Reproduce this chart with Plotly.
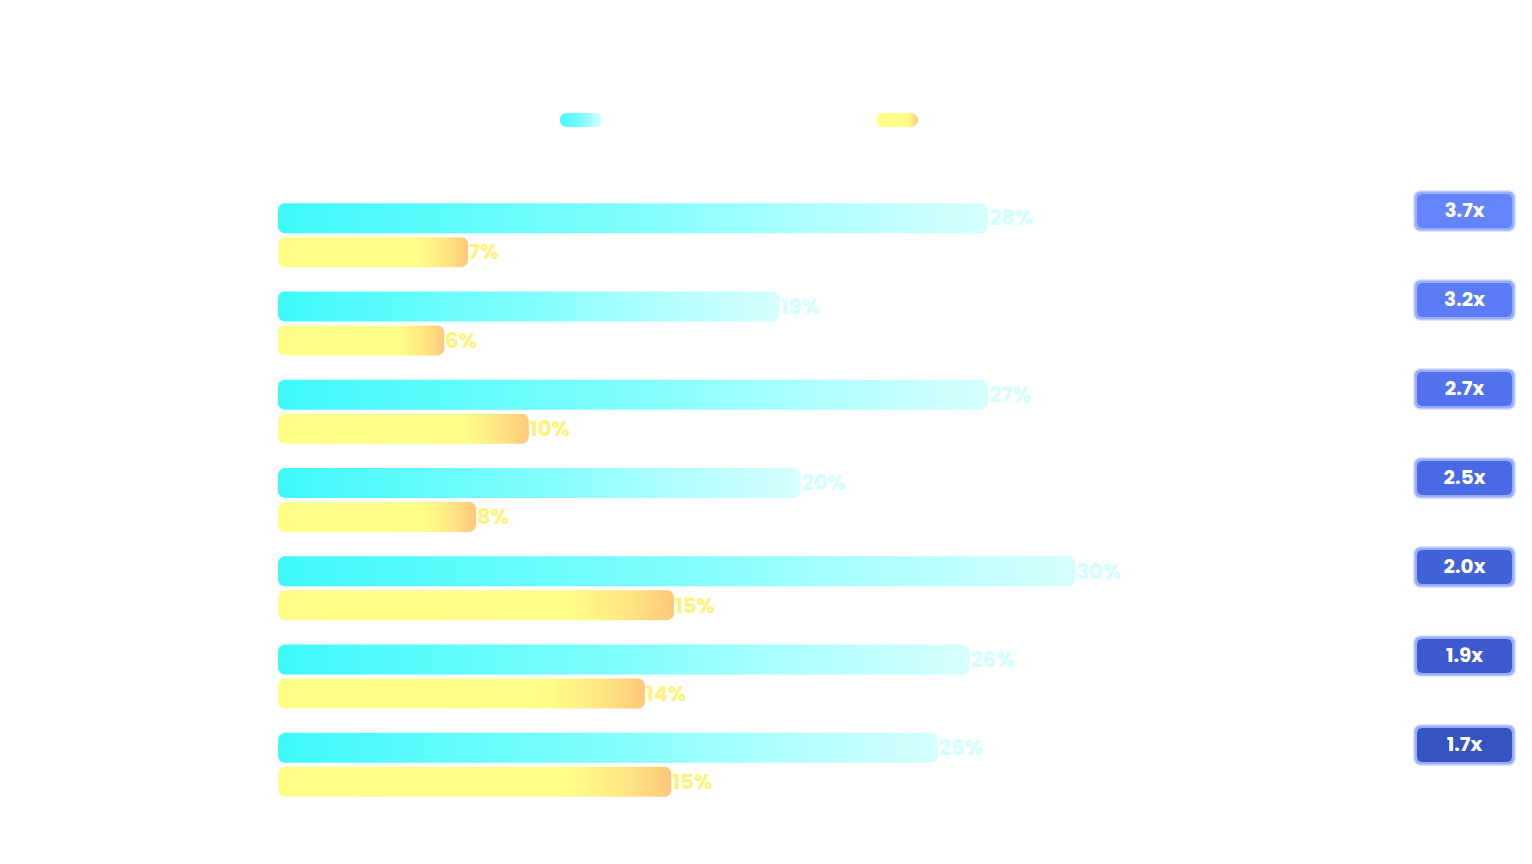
import numpy as np
import plotly.graph_objects as go

# values (labels are the printed ones)
rows = [0, 1, 2, 3, 4, 5, 6]
cyan_vals = [26.9, 19.0, 26.9, 19.8, 30.2, 26.2, 25.0]
yellow_vals = [7.2, 6.3, 9.5, 7.5, 15.0, 13.9, 14.9]
cyan_labels = ["28%", "19%", "27%", "20%", "30%", "26%", "25%"]
yellow_labels = ["7%", "6%", "10%", "8%", "15%", "14%", "15%"]
ratios = ["3.7x", "3.2x", "2.7x", "2.5x", "2.0x", "1.9x", "1.7x"]
badge_colors = ["#6384fa", "#5b7cf4", "#5172ec", "#4a6ae3", "#4262d8", "#3c5acd", "#3653c2"]
series_names = ["Group A", "Group B"]

# page has an 8px body margin, so the figure is 16px smaller than the window
W, H = 1516, 848
ML = 270
plot_top, plot_bottom = 183, 801
px_per_unit = 26.4
xmax = (W - ML) / px_per_unit
row_px = (plot_bottom - plot_top) / 7.0

half = 15 / row_px
off = 17 / row_px


def rrect(x0, x1, y0, y1, rx, ry, n=8):
    # closed rounded rectangle path
    t = np.linspace(0, np.pi / 2, n)
    xs, ys = [], []
    for cx, cy, a0 in [(x1 - rx, y0 + ry, -np.pi / 2), (x1 - rx, y1 - ry, 0),
                       (x0 + rx, y1 - ry, np.pi / 2), (x0 + rx, y0 + ry, np.pi)]:
        xs += list(cx + rx * np.cos(a0 + t))
        ys += list(cy + ry * np.sin(a0 + t))
    xs.append(xs[0])
    ys.append(ys[0])
    return xs, ys


def ux(p):
    return p / px_per_unit


def uy(p):
    return p / row_px


cyan_scale = [[0, "#3ef9f9"], [0.5, "#80fdfd"], [0.75, "#aefefe"], [1, "#d6ffff"]]
yellow_scale = [[0, "#ffff88"], [0.74, "#fffe88"], [0.9, "#ffe282"], [1, "#ffc77b"]]

fig = go.Figure()

for i, r in enumerate(rows):
    for vals, yshift, scale, name in [(cyan_vals, -off, cyan_scale, series_names[0]),
                                      (yellow_vals, off, yellow_scale, series_names[1])]:
        yc = r + yshift
        xs, ys = rrect(0, vals[i], yc - half, yc + half, ux(7), uy(7))
        fig.add_trace(go.Scatter(
            x=xs, y=ys, mode="lines", fill="toself",
            line=dict(width=0, color=scale[-1][1]),
            fillgradient=dict(type="horizontal", colorscale=scale),
            name=name, legendgroup=name, showlegend=False,
            hoverinfo="skip"))

label_font = "Poppins, Inter, Open Sans"
fig.add_trace(go.Scatter(
    x=[v + ux(1) for v in cyan_vals], y=[r - off + uy(2) for r in rows], mode="text",
    text=["<b>%s</b>" % t for t in cyan_labels], textposition="middle right",
    textfont=dict(color="#d2ffff", size=21, family=label_font),
    showlegend=False, hoverinfo="skip"))
fig.add_trace(go.Scatter(
    x=[v + ux(1) for v in yellow_vals], y=[r + off + uy(2) for r in rows], mode="text",
    text=["<b>%s</b>" % t for t in yellow_labels], textposition="middle right",
    textfont=dict(color="#fff27a", size=21, family=label_font),
    showlegend=False, hoverinfo="skip"))

# ratio badges in the right column (pixel-space overlay), 89px apart
badge_cx, badge_top, badge_step = 1456.5, 203, 89
for i in range(len(ratios)):
    cy = badge_top + badge_step * i
    for hw, hh, rad, col in [(51.5, 21, 7, "rgba(175,192,255,0.45)"),
                             (50, 19.5, 6, "rgba(130,155,252,0.75)"),
                             (47.5, 17, 5, badge_colors[i])]:
        xs, ys = rrect(badge_cx - hw, badge_cx + hw, cy - hh, cy + hh, rad, rad)
        fig.add_trace(go.Scatter(x=xs, y=ys, xaxis="x2", yaxis="y2", mode="lines", fill="toself",
                                 fillcolor=col, line=dict(width=0),
                                 showlegend=False, hoverinfo="skip"))
fig.add_trace(go.Scatter(
    x=[badge_cx] * len(ratios), y=[badge_top + badge_step * i + 1 for i in range(len(ratios))],
    xaxis="x2", yaxis="y2", mode="text",
    text=["<b>%s</b>" % t for t in ratios], textposition="middle center",
    textfont=dict(color="white", size=20, family=label_font),
    showlegend=False, hoverinfo="skip"))

# legend keys drawn on the pixel-space overlay
legend_left = [552, 868]
for k, scale in enumerate([cyan_scale, yellow_scale]):
    xs, ys = rrect(legend_left[k], legend_left[k] + 42, 105, 119, 7, 7)
    fig.add_trace(go.Scatter(x=xs, y=ys, xaxis="x2", yaxis="y2", mode="lines", fill="toself",
                             line=dict(width=0, color=scale[-1][1]),
                             fillgradient=dict(type="horizontal", colorscale=scale),
                             showlegend=False, hoverinfo="skip"))
fig.add_trace(go.Scatter(
    x=[p + 52 for p in legend_left], y=[112, 112], xaxis="x2", yaxis="y2", mode="text",
    text=series_names, textposition="middle right",
    textfont=dict(color="white", size=16, family=label_font),
    showlegend=False, hoverinfo="skip"))

fig.update_layout(
    width=W, height=H,
    margin=dict(l=0, r=0, t=0, b=0),
    paper_bgcolor="white", plot_bgcolor="rgba(0,0,0,0)",
    showlegend=False,
    xaxis=dict(domain=[ML / W, 1], range=[0, xmax], visible=False),
    yaxis=dict(domain=[(H - plot_bottom) / H, (H - plot_top) / H], range=[6.5, -0.5], visible=False),
    xaxis2=dict(domain=[0, 1], range=[0, W], anchor="y2", visible=False),
    yaxis2=dict(domain=[0, 1], range=[H, 0], anchor="x2", visible=False),
)

fig.write_html("out.html")
